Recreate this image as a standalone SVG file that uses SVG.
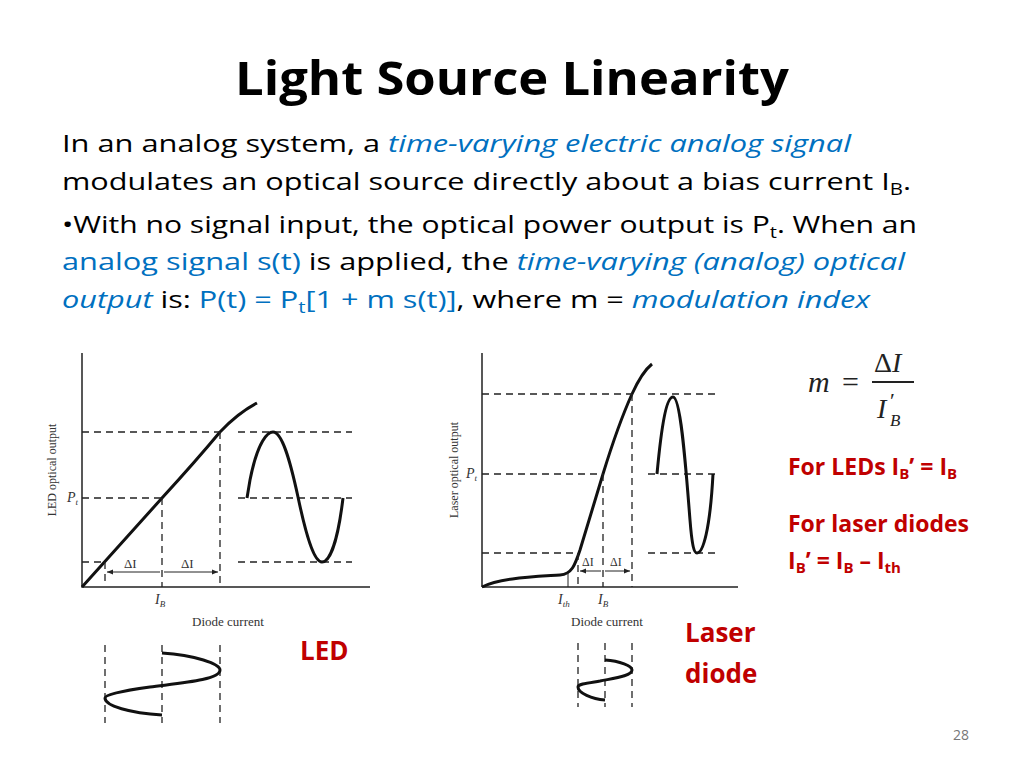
<svg xmlns="http://www.w3.org/2000/svg" width="1024" height="768" viewBox="0 0 1024 768">
<style>
.t{font-family:"Open Sans","Liberation Sans",sans-serif;fill:#000}
.b{fill:#0070C0}
.r{font-family:"Open Sans","Liberation Sans",sans-serif;fill:#C00000;font-weight:bold}
.s{font-family:"Liberation Serif",serif;fill:#333}
.ax{stroke:#222;stroke-width:1.5;fill:none}
.cv{stroke:#111;stroke-width:3;fill:none}
.d{stroke:#222;stroke-width:1.3;stroke-dasharray:7,5;fill:none}
.ar{stroke:#222;stroke-width:1;fill:none}
</style>
<defs>
<marker id="a" viewBox="0 0 10 10" refX="10" refY="5" markerWidth="6" markerHeight="6" orient="auto-start-reverse"><path d="M0,1L10,5L0,9z" fill="#222"/></marker>
</defs>
<rect width="1024" height="768" fill="#fff"/>
<text x="512" y="95" text-anchor="middle" class="t" font-weight="bold" font-size="46" textLength="554" lengthAdjust="spacingAndGlyphs">Light Source Linearity</text>
<g class="t" font-size="24">
<text x="62" y="152" textLength="789" lengthAdjust="spacingAndGlyphs">In an analog system, a <tspan class="b" font-style="italic">time-varying electric analog signal</tspan></text>
<text x="62" y="190" textLength="849" lengthAdjust="spacingAndGlyphs">modulates an optical source directly about a bias current I<tspan font-size="16" dy="5">B</tspan><tspan dy="-5">.</tspan></text>
<text x="62" y="233" textLength="855" lengthAdjust="spacingAndGlyphs">•With no signal input, the optical power output is P<tspan font-size="16" dy="5">t</tspan><tspan dy="-5">. When an</tspan></text>
<text x="62" y="270" textLength="843" lengthAdjust="spacingAndGlyphs"><tspan class="b">analog signal s(t)</tspan> is applied, the <tspan class="b" font-style="italic">time-varying (analog) optical</tspan></text>
<text x="62" y="308" textLength="808" lengthAdjust="spacingAndGlyphs"><tspan class="b" font-style="italic">output</tspan> is: <tspan class="b">P(t) = P</tspan><tspan class="b" font-size="16" dy="5">t</tspan><tspan class="b" dy="-5">[1 + m s(t)]</tspan>, where m = <tspan class="b" font-style="italic">modulation index</tspan></text>
</g>
<g id="led-plot">
<path class="ax" d="M82,353V587H370"/>
<path class="cv" d="M82,587L162,498Q195,462 220,432Q238,413 257,403"/>
<path class="d" d="M82,432H220M238,432H352M82,498H162M238,498H352M82,562H104M238,562H352M162,498V587M220,432V587M105,562V585"/>
<path class="ar" d="M107,572H160M164,572H218" marker-start="url(#a)" marker-end="url(#a)"/>
<path class="cv" d="M247,498L250,480C258,440 268,432 273,432C282,432 290,460 298,497C306,535 314,562 322,562C330,562 338,540 343,498"/>
<g class="s" font-size="14"><text x="124" y="568" font-size="13">ΔI</text><text x="181" y="568" font-size="13">ΔI</text>
<text x="155" y="604" font-style="italic">I<tspan font-size="9" dy="3">B</tspan></text>
<text x="67" y="502" font-style="italic">P<tspan font-size="9" dy="3">t</tspan></text>
<text x="228" y="626" text-anchor="middle" font-size="13">Diode current</text>
<text transform="translate(56,470) rotate(-90)" text-anchor="middle" font-size="12">LED optical output</text></g>
<path class="d" d="M105,645V723M162,645V723M220,645V723"/>
<path class="cv" d="M162,653C195,655 220,664 220,670C220,680 180,683 150,687C120,691 105,695 105,698C105,706 130,713 162,715" stroke-width="2.5"/>
</g>
<g id="laser-plot">
<path class="ax" d="M482,587V353M482,587H738"/>
<path class="cv" d="M482,587C500,578 530,577 560,575C572,574 575,565 580,550L603,474Q618,425 632,394Q642,372 652,364"/>
<path class="d" d="M482,394H632M648,394H718M482,474H603M648,474H718M482,553H578M648,553H718M578,553V587M603,474V587M632,394V587"/>
<path class="ar" d="M568,573V587"/>
<path class="ar" d="M580,571H601M605,571H630" marker-start="url(#a)" marker-end="url(#a)"/>
<path class="cv" d="M657,474C662,420 667,397 673,397C681,397 686,470 690,520C692,545 694,553 697,553C703,553 710,530 713,474"/>
<g class="s" font-size="14"><text x="582" y="566" font-size="12">ΔI</text><text x="610" y="566" font-size="12">ΔI</text>
<text x="558" y="604" font-style="italic">I<tspan font-size="9" dy="3">th</tspan></text>
<text x="598" y="604" font-style="italic">I<tspan font-size="9" dy="3">B</tspan></text>
<text x="466" y="478" font-style="italic">P<tspan font-size="9" dy="3">t</tspan></text>
<text x="607" y="626" text-anchor="middle" font-size="13">Diode current</text>
<text transform="translate(458,470) rotate(-90)" text-anchor="middle" font-size="12">Laser optical output</text></g>
<path class="d" d="M578,643V707M605,643V707M632,643V707"/>
<path class="cv" d="M605,660C620,661 632,666 632,670C632,676 615,678 600,681C588,683 578,684 578,687C578,693 592,699 605,700" stroke-width="2.5"/>
</g>
<g id="formula" font-family="Liberation Serif,serif" font-style="italic" fill="#222">
<text x="808" y="392" font-size="30">m</text>
<text x="842" y="392" font-size="30" font-style="normal">=</text>
<text x="874" y="372" font-size="28"><tspan font-style="normal">Δ</tspan>I</text>
<path d="M872,382H914" stroke="#222" stroke-width="1.8"/>
<text x="877" y="418" font-size="28">I</text>
<text x="890" y="408" font-size="22" font-style="normal">′</text>
<text x="890" y="426" font-size="17">B</text>
</g>
<g font-size="23">
<text x="788" y="475" class="r">For LEDs I<tspan font-size="15" dy="4">B</tspan><tspan dy="-4">’ = I</tspan><tspan font-size="15" dy="4">B</tspan></text>
<text x="788" y="532" class="r">For laser diodes</text>
<text x="788" y="569" class="r">I<tspan font-size="15" dy="4">B</tspan><tspan dy="-4">’ = I</tspan><tspan font-size="15" dy="4">B</tspan><tspan dy="-4"> – I</tspan><tspan font-size="15" dy="4">th</tspan></text>
</g>
<g font-size="26">
<text x="300" y="660" class="r">LED</text>
<text x="685" y="642" class="r">Laser</text>
<text x="685" y="683" class="r">diode</text>
</g>
<text x="953" y="740" font-family="Open Sans,sans-serif" font-size="14" fill="#777">28</text>
</svg>
